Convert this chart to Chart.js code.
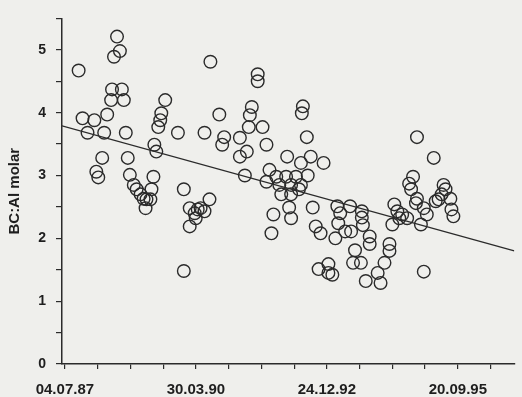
<!DOCTYPE html>
<html>
<head>
<meta charset="utf-8">
<script src="https://cdn.jsdelivr.net/npm/chart.js@4.4.0/dist/chart.umd.min.js"></script>
<style>
    html, body { margin: 0; padding: 0; background: #efefec; }
    canvas { display: block; }
</style>
</head>
<body>
<canvas id="ratioChart" width="522" height="397"></canvas>
<script>
// days since 04.07.87
const sampleDays = [105, 135, 225, 173, 285, 240, 255, 300, 323, 353, 450, 360, 435, 375, 420, 398,
    465, 480, 496, 526, 548, 578, 601, 623, 653, 661, 676, 616, 683, 698, 713, 728, 736, 766,
    863, 908, 908, 953, 991, 1014, 1036, 1066, 999, 953, 1066, 1104, 1111, 1179, 1216, 1201,
    1336, 1336, 1389, 1374, 1404, 1412, 1427, 1472, 1472, 1509, 1539, 1562, 1539, 1614, 1689,
    1764, 1854, 1637, 1727, 1802, 1787, 1652, 1727, 1697, 1802, 1877, 1975, 1817, 1809, 1847,
    1592, 1712, 1727, 1577, 1892, 1915, 1952, 2080, 2102, 2177, 2087, 2140, 2185, 2065, 2267,
    2267, 2275, 2327, 2327, 2215, 2200, 2260, 1937, 2012, 2042, 2012, 2297, 2478, 2478, 2440,
    2388, 2410, 2515, 2538, 2575, 2613, 2553, 2500, 2628, 2658, 2643, 2688, 2680, 2688, 2816,
    2740, 2763, 2718, 2831, 2853, 2891, 2906, 2876, 2943, 2951, 2966, 2740];

const bcAlValues = [4.67, 3.91, 3.88, 3.68, 3.28, 3.06, 2.97, 3.68, 3.97, 4.20, 4.20, 4.37, 4.37, 4.89, 4.98, 5.21,
    3.68, 3.28, 3.01, 2.85, 2.78, 2.70, 2.63, 2.62, 2.62, 2.78, 2.98, 2.48, 3.49, 3.38, 3.77, 3.88, 3.99, 4.20,
    3.68, 2.78, 1.48, 2.48, 2.40, 2.46, 2.48, 2.43, 2.32, 2.19, 3.68, 2.62, 4.81, 3.97, 3.61, 3.49,
    3.60, 3.30, 3.38, 3.00, 3.77, 3.96, 4.09, 4.61, 4.50, 3.77, 3.49, 3.09, 2.90, 2.98, 2.98,
    2.98, 3.00, 2.85, 2.85, 2.85, 2.78, 2.70, 2.70, 3.30, 3.20, 3.30, 3.20, 4.10, 3.99, 3.61,
    2.38, 2.49, 2.32, 2.08, 2.49, 2.19, 2.08, 2.51, 2.40, 2.51, 2.24, 2.11, 2.11, 2.00, 2.43,
    2.33, 2.21, 2.03, 1.91, 1.81, 1.61, 1.61, 1.51, 1.59, 1.42, 1.45, 1.32, 1.91, 1.80, 1.61,
    1.45, 1.29, 2.54, 2.43, 2.38, 2.32, 2.32, 2.22, 2.87, 2.98, 2.78, 2.63, 2.56, 3.61, 3.28,
    2.48, 2.38, 2.22, 2.59, 2.62, 2.85, 2.78, 2.70, 2.63, 2.46, 2.35, 1.47];

const trendDays = [-22, 3431];
const trendValues = [3.79, 1.80];

const xTickDays = [0, 1000, 2000, 3000];
const xTickLabels = ['04.07.87', '30.03.90', '24.12.92', '20.09.95'];
const yTickValues = [0, 1, 2, 3, 4, 5];

const ink = '#2b2b2b';

function toPoints(xs, ys) {
    const pts = [];
    for (let i = 0; i < xs.length; i++) {
        pts.push({ x: xs[i], y: ys[i] });
    }
    return pts;
}

function renderChart() {
    const ctx = document.getElementById('ratioChart').getContext('2d');
    new Chart(ctx, {
        type: 'scatter',
        data: {
            datasets: [{
                label: 'BC:Al',
                data: toPoints(sampleDays, bcAlValues),
                pointRadius: 6.3,
                pointBorderWidth: 1.4,
                borderColor: ink,
                backgroundColor: 'rgba(0,0,0,0)'
            }, {
                label: 'trend',
                data: toPoints(trendDays, trendValues),
                showLine: true,
                pointRadius: 0,
                borderWidth: 1.3,
                borderColor: ink
            }]
        },
        options: {
            responsive: false,
            animation: false,
            devicePixelRatio: 1,
            layout: { padding: { top: 15, right: 0, left: 0, bottom: 0 } },
            plugins: {
                legend: { display: false },
                tooltip: { enabled: false }
            },
            scales: {
                x: {
                    type: 'linear',
                    min: -22,
                    max: 3431,
                    afterBuildTicks: function (scale) {
                        const ticks = [];
                        for (let d = 0; d <= 3250; d += 250) ticks.push({ value: d });
                        scale.ticks = ticks;
                    },
                    afterFit: function (scale) { scale.height = 33; },
                    grid: { drawOnChartArea: false, drawTicks: true, tickLength: 5, color: ink, lineWidth: 1.2 },
                    border: { display: true, color: ink, width: 1.5 },
                    ticks: {
                        padding: 12,
                        maxRotation: 0,
                        autoSkip: false,
                        color: '#1e1e1e',
                        font: { family: 'Liberation Sans', size: 15, weight: 'bold' },
                        callback: function (value) {
                            const i = xTickDays.indexOf(value);
                            return i === -1 ? '' : xTickLabels[i];
                        }
                    }
                },
                y: {
                    min: 0,
                    max: 5.5,
                    afterBuildTicks: function (scale) {
                        const ticks = [];
                        for (let v = 0; v <= 5.5; v += 0.5) ticks.push({ value: v });
                        scale.ticks = ticks;
                    },
                    afterFit: function (scale) { scale.width = 62; },
                    grid: { drawOnChartArea: false, drawTicks: true, tickLength: 6, color: ink, lineWidth: 1.2 },
                    border: { display: true, color: ink, width: 1.5 },
                    title: {
                        display: true,
                        text: 'BC:Al molar',
                        color: '#1e1e1e',
                        padding: { top: 6, bottom: 0 },
                        font: { family: 'Liberation Sans', size: 15, weight: 'bold' }
                    },
                    ticks: {
                        padding: 10,
                        autoSkip: false,
                        color: '#1e1e1e',
                        font: { family: 'Liberation Sans', size: 14, weight: 'bold' },
                        callback: function (value) {
                            return yTickValues.indexOf(value) === -1 ? '' : String(value);
                        }
                    }
                }
            }
        }
    });
}

renderChart();
</script>
</body>
</html>
